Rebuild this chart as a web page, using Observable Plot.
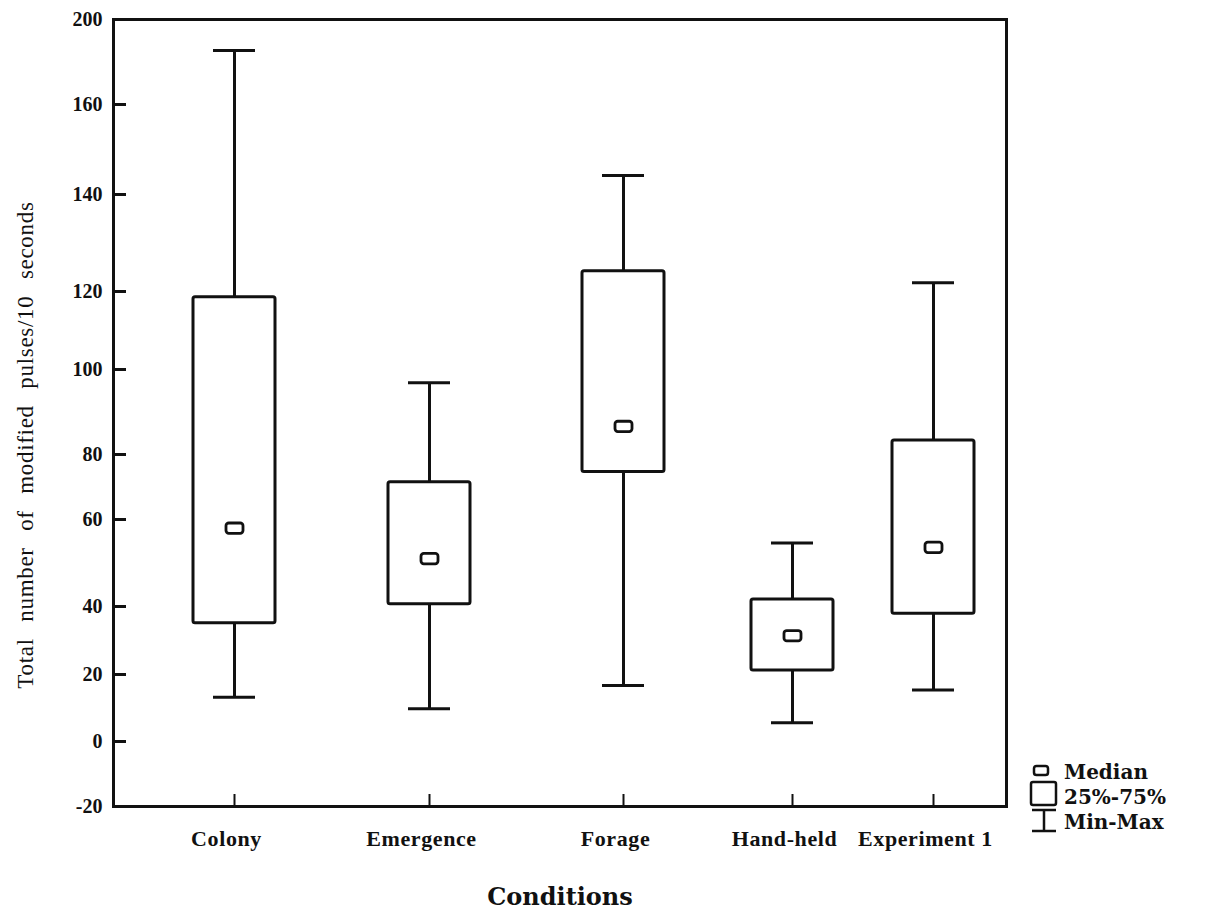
<!DOCTYPE html>
<html>
<head>
<meta charset="utf-8">
<script src="https://cdn.jsdelivr.net/npm/d3@7"></script>
<script src="https://cdn.jsdelivr.net/npm/@observablehq/plot@0.6"></script>
<style>
  html, body { margin: 0; padding: 0; background: #fff; }
  #wrap { position: relative; width: 1206px; height: 913px; overflow: hidden; }
  #wrap svg { display: block; }
  .lg { position: absolute; font-family: "DejaVu Serif", serif; font-weight: bold; font-size: 20px; line-height: 1; color: #111; white-space: nowrap; }
  .lgicon { position: absolute; }
</style>
</head>
<body>
<div id="wrap"></div>
<script>
// ---- data ----
const conditions = ["Colony", "Emergence", "Forage", "Hand-held", "Experiment 1"];
const minVals    = [13.2,  9.8, 16.7,  5.6, 15.4];
const q1Vals     = [35.1, 40.5, 74.6, 21.2, 37.9];
const medianVals = [58.0, 51.0, 86.6, 31.4, 53.6];
const q3Vals     = [118.5, 71.5, 124.2, 41.6, 83.3];
const maxVals    = [185.4, 96.9, 144.2, 54.6, 121.8];
const yTickValues = [-20, 0, 20, 40, 60, 80, 100, 120, 140, 160, 200];
const yTitle = "Total number of modified pulses/10 seconds";
const xTitle = "Conditions";
const legendLabels = ["Median", "25%-75%", "Min-Max"];

const rows = conditions.map((c, i) => ({
  i, condition: c,
  min: minVals[i], q1: q1Vals[i], median: medianVals[i], q3: q3Vals[i], max: maxVals[i]
}));

// ---- layout of the reference's (irregular) axes ----
const yRange = [806, 741, 674, 606, 519, 454, 369, 291, 194, 104, 19];
const xRange = [234, 429, 623, 792, 933];
const ink = "#111";

// rounded-rectangle symbol for medians
const medianSymbol = {
  draw(ctx) {
    const w = 8.5, h = 5.2, r = 2.8;
    ctx.moveTo(-w + r, -h);
    ctx.lineTo(w - r, -h);
    ctx.arcTo(w, -h, w, -h + r, r);
    ctx.lineTo(w, h - r);
    ctx.arcTo(w, h, w - r, h, r);
    ctx.lineTo(-w + r, h);
    ctx.arcTo(-w, h, -w, h - r, r);
    ctx.lineTo(-w, -h + r);
    ctx.arcTo(-w, -h, -w + r, -h, r);
    ctx.closePath();
  }
};

const chart = Plot.plot({
  width: 1206,
  height: 913,
  marginLeft: 113,
  marginTop: 19,
  marginRight: 200,
  marginBottom: 107,
  style: { background: "white", color: ink },
  x: { type: "linear", domain: conditions.map((_, i) => i), range: xRange },
  y: { type: "linear", domain: yTickValues, range: yRange },
  marks: [
    Plot.ruleX(rows, { x: "i", y1: "min", y2: "max", stroke: ink, strokeWidth: 3 }),
    Plot.ruleY(rows, { x1: "i", x2: "i", y: "max", insetLeft: -21, insetRight: -21, stroke: ink, strokeWidth: 3 }),
    Plot.ruleY(rows, { x1: "i", x2: "i", y: "min", insetLeft: -21, insetRight: -21, stroke: ink, strokeWidth: 3 }),
    Plot.rect(rows, { x1: "i", x2: "i", y1: "q1", y2: "q3", insetLeft: -41, insetRight: -41,
      fill: "white", stroke: ink, strokeWidth: 3, strokeLinejoin: "round", rx: 2 }),
    Plot.dot(rows, { x: "i", y: "median", symbol: medianSymbol, r: 5, fill: "white", stroke: ink, strokeWidth: 2.8 }),
    Plot.axisY({ ticks: yTickValues, tickFormat: (d) => String(d), tickSize: -13, tickPadding: 24, strokeWidth: 3,
      fontSize: 20, fontFamily: "Liberation Serif", fontWeight: "bold", label: null }),
    Plot.axisX({ ticks: conditions.map((_, i) => i), tickFormat: (i) => conditions[i],
      tickSize: -12, tickPadding: 36, strokeWidth: 2, textStroke: "none",
      fontSize: 22, fontFamily: "Liberation Serif", fontWeight: "bold", label: null }),
    Plot.frame({ stroke: ink, strokeWidth: 3 }),
    Plot.text([yTitle], { text: (d) => d, frameAnchor: "left", textAnchor: "middle", rotate: -90, dx: -88, dy: 32,
      fontSize: 23, fontFamily: "Liberation Serif", fill: ink }),
    Plot.text([xTitle], { text: (d) => d, frameAnchor: "bottom", dy: 98,
      fontSize: 24, fontWeight: "bold", fontFamily: "DejaVu Serif", fill: ink })
  ]
});

d3.select(chart).selectAll("text")
  .filter(function () { return this.textContent === yTitle; })
  .style("word-spacing", "10px").style("letter-spacing", "0.7px");

// shift the category labels slightly left and widen them a little, as in the reference
d3.select(chart).selectAll('g[aria-label="x-axis tick label"] text')
  .attr("dx", -8).style("letter-spacing", "0.6px");

const wrap = document.getElementById("wrap");
wrap.appendChild(chart);

// ---- legend (to the right of the plot, as in the reference) ----
const icons = [
  `<svg width="20" height="16"><rect x="3" y="3" width="14" height="9" rx="2.6" fill="none" stroke="${ink}" stroke-width="2.5"/></svg>`,
  `<svg width="30" height="28"><rect x="2" y="2" width="25" height="23" rx="2" fill="none" stroke="${ink}" stroke-width="2.5"/></svg>`,
  `<svg width="30" height="26"><path d="M3,2H27M15,2V23M3,23H27" fill="none" stroke="${ink}" stroke-width="2.5"/></svg>`
];
const iconPos = [[1031, 763], [1029, 780], [1029, 808]];
const textTop = [762, 787, 812];
legendLabels.forEach((lab, k) => {
  const ic = document.createElement("div");
  ic.className = "lgicon";
  ic.style.left = iconPos[k][0] + "px";
  ic.style.top = iconPos[k][1] + "px";
  ic.innerHTML = icons[k];
  wrap.appendChild(ic);
  const t = document.createElement("div");
  t.className = "lg";
  t.style.left = "1064px";
  t.style.top = textTop[k] + "px";
  t.textContent = lab;
  wrap.appendChild(t);
});
</script>
</body>
</html>
